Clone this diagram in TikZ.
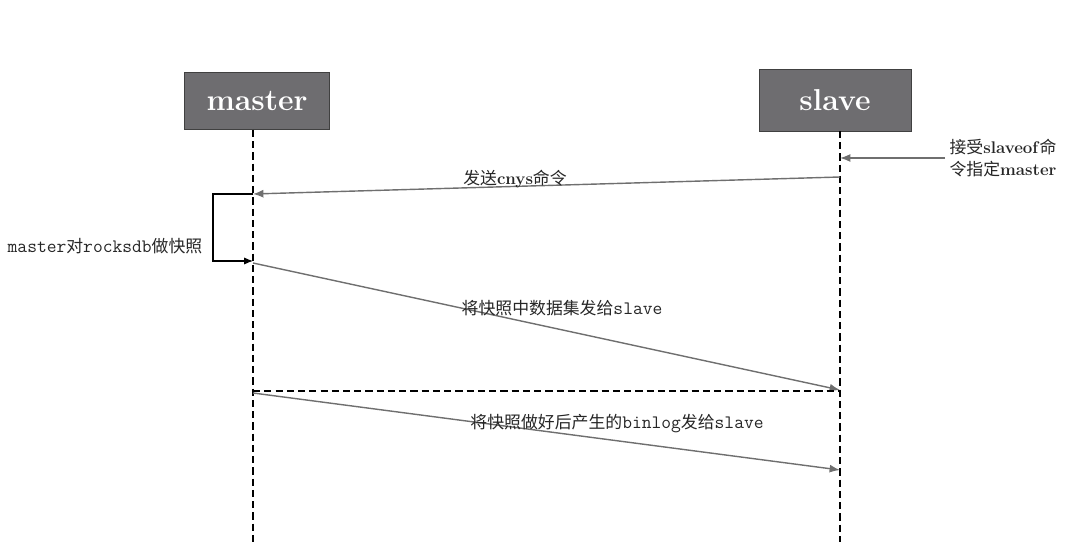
\documentclass[tikz,border=0pt]{standalone}
\usepackage{fontspec}
\newfontfamily\cjk{Noto Sans CJK SC}
\usetikzlibrary{arrows.meta, positioning}
\definecolor{boxgray}{HTML}{6E6D70}
\definecolor{arrowgray}{HTML}{6F6F6F}
\newcommand\mono[1]{{\fontsize{13.5}{15}\selectfont\texttt{#1}}}

\begin{document}
\begin{tikzpicture}[
    x=0.025cm, y=-0.025cm,
    actor/.style={rectangle, draw=black!75, fill=boxgray, text=white, inner sep=0pt,
                  font=\fontsize{21.5}{24}\selectfont\bfseries},
    lifeline/.style={line width=1.1pt, dash pattern=on 5pt off 3pt},
    msg/.style={-{Latex[length=2.6mm, width=2mm]}, draw=arrowgray, line width=1pt},
    selfmsg/.style={-{Latex[length=2.2mm, width=1.8mm]}, line width=0.8pt},
    lbl/.style={font=\fontsize{12}{15}\selectfont, inner sep=1pt, text=black!85}
]
\useasboundingbox (0,0) rectangle (1080,557);

% Boxes
\node[actor, minimum width=3.63cm, minimum height=1.43cm] (master) at (257,101) {master};
\node[actor, minimum width=3.8cm, minimum height=1.55cm] (slave) at (835,100) {slave};

% Lifelines
\coordinate (mtop) at (253,130);
\coordinate (mend) at (253,542);
\coordinate (stop) at (840,131);
\coordinate (send) at (840,542);
\draw[lifeline] (mtop) -- (mend);
\draw[lifeline] (stop) -- (send);

% Points on the lifelines
\coordinate (ext) at (945,158);
\coordinate (s0) at (840,158);
\coordinate (s1) at (840,177);
\coordinate (m1) at (253,194);
\coordinate (l1) at (213,194);
\coordinate (l2) at (213,261);
\coordinate (m2) at (253,261);
\coordinate (m3) at (253,263);
\coordinate (s3) at (840,390);
\coordinate (m4) at (253,391);
\coordinate (s4) at (840,391);
\coordinate (m5) at (253,393);
\coordinate (s5) at (840,470);

% Messages
\draw[msg] (ext) -- (s0);
\draw[msg] (s1) -- (m1);
\draw[selfmsg] (m1) -- (l1) -- (l2) -- (m2);
\draw[msg] (m3) -- (s3);
\draw[lifeline] (m4) -- (s4);
\draw[msg] (m5) -- (s5);

% Labels
\node[lbl, align=left] (recv) at (1003,158) {{\cjk 接受}\textbf{slaveof}{\cjk 命}\\{\cjk 令指定}\textbf{master}};
\node[lbl] (sync) at (515,179) {{\cjk 发送}\textbf{cnys}{\cjk 命令}};
\node[lbl] (snap) at (105,246) {\mono{master}{\cjk 对}\mono{rocksdb}{\cjk 做快照}};
\node[lbl] (data) at (562,308) {{\cjk 将快照中数据集发给}\mono{slave}};
\node[lbl] (binlog) at (617,424) {{\cjk 将快照做好后产生的}\mono{binlog}{\cjk 发给}\mono{slave}};

\end{tikzpicture}
\end{document}
